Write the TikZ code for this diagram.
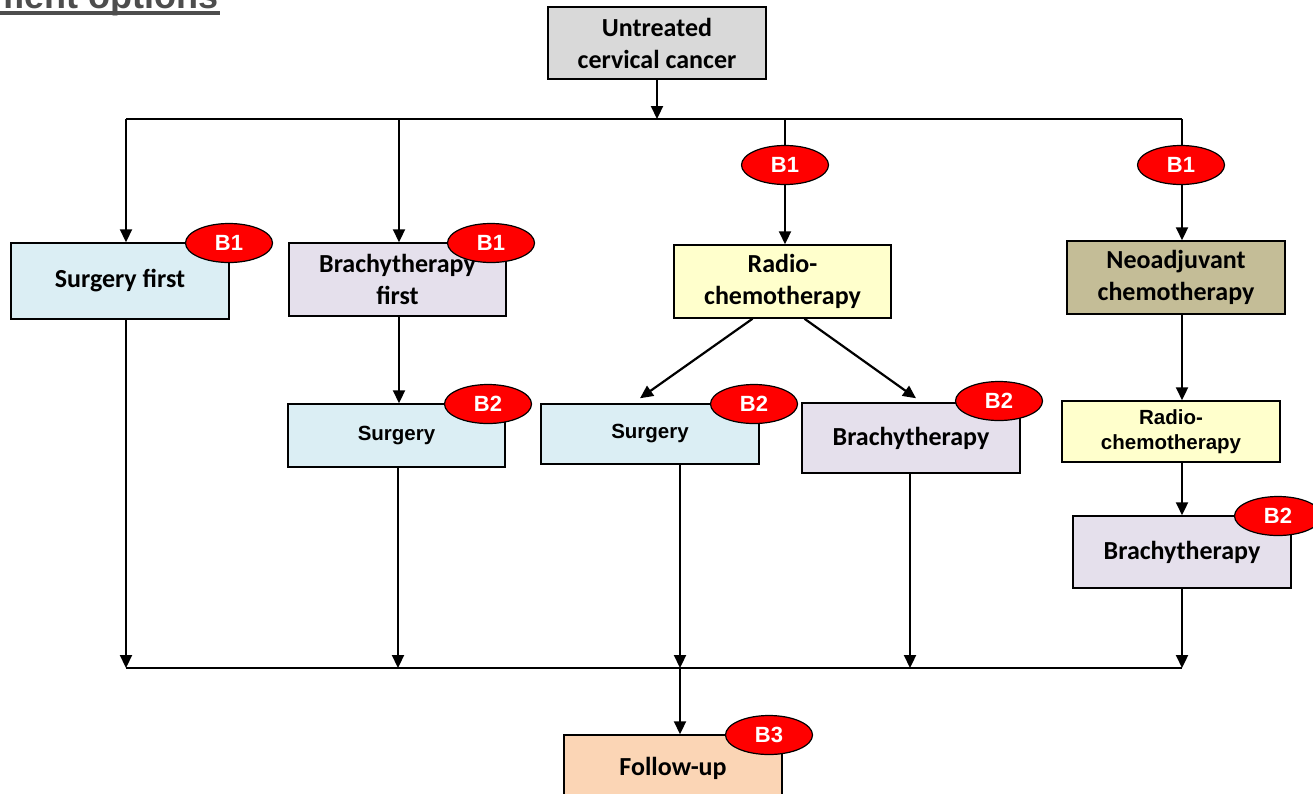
\documentclass[tikz,border=0pt]{standalone}
\usepackage{fontspec}
\setmainfont{Carlito}
\newfontfamily\arialfont{Liberation Sans}
\usetikzlibrary{arrows.meta,shapes.geometric}
\definecolor{cgray}{HTML}{D9D9D9}
\definecolor{cblue}{HTML}{DBEEF4}
\definecolor{clav}{HTML}{E5E0EC}
\definecolor{cyel}{HTML}{FFFFCC}
\definecolor{colive}{HTML}{C4BD97}
\definecolor{cpeach}{HTML}{FBD5B5}
\definecolor{ctitle}{HTML}{4D4D4D}
\definecolor{cred}{HTML}{FF0000}
\tikzset{
  box/.style={draw=black, line width=1.5pt, rectangle, inner sep=0pt, align=center,
    font=\fontsize{26}{32}\selectfont\bfseries},
  abox/.style={box, font=\arialfont\fontsize{20.5}{25}\selectfont\bfseries},
  badge/.style={ellipse, draw=black, line width=1.2pt, fill=cred, text=white, inner sep=0pt,
    minimum width=87pt, minimum height=39pt, font=\arialfont\fontsize{22}{24}\selectfont\bfseries},
  arr/.style={line width=2.2pt, -{Triangle[length=13pt,width=12pt]}},
  ln/.style={line width=1.6pt}
}
\begin{document}
\begin{tikzpicture}[x=1pt,y=-1pt]
\useasboundingbox (0,0) rectangle (1313,793);
\clip (0,0) rectangle (1313,793);
% title (cut off at the top edge, as in the reference)
\node[anchor=base east, inner sep=0pt, text=ctitle, font=\arialfont\fontsize{36}{40}\selectfont\bfseries] (title) at (219,8.5) {Treatment options};
\fill[ctitle] (0,11) rectangle (220,15);
% boxes
\node[box, fill=cgray, minimum width=218pt, minimum height=72pt] (uc) at (657,43) {Untreated\\cervical cancer};
\node[box, fill=cblue, minimum width=218pt, minimum height=76pt] (sf) at (120,281) {Surgery first};
\node[box, fill=clav, minimum width=217pt, minimum height=73pt] (bf) at (397.5,279.5) {Brachytherapy\\first};
\node[box, fill=cyel, minimum width=217pt, minimum height=73pt] (rc) at (782.5,281.5) {Radio-\\chemotherapy};
\node[box, fill=colive, minimum width=218pt, minimum height=73pt] (nc) at (1176,277.5) {Neoadjuvant\\chemotherapy};
\node[abox, fill=cblue, minimum width=217pt, minimum height=63pt] (s2) at (396.5,435.5) {Surgery};
\node[abox, fill=cblue, minimum width=218pt, minimum height=60pt] (s3) at (650,434) {Surgery};
\node[box, fill=clav, minimum width=218pt, minimum height=70pt] (b3) at (911,438) {Brachytherapy};
\node[abox, fill=cyel, minimum width=218pt, minimum height=61pt] (r4) at (1171,431.5) {Radio-\\chemotherapy};
\node[box, fill=clav, minimum width=218pt, minimum height=72pt] (b4) at (1182,552) {Brachytherapy};
\node[box, fill=cpeach, minimum width=218pt, minimum height=66pt] (fu) at (673,768) {Follow-up};
% junction coordinates
\coordinate (t1) at (126,119);
\coordinate (t2) at (399,119);
\coordinate (t0) at (657,119);
\coordinate (t3) at (785,119);
\coordinate (t4) at (1182,119);
\coordinate (u1) at (126,668);
\coordinate (u2) at (398,668);
\coordinate (u3) at (680,668);
\coordinate (u4) at (910,668);
\coordinate (u5) at (1182,668);
% connectors
\draw[ln] (t1) -- (t4);
\draw[ln] (u1) -- (u5);
\draw[arr] (uc.south) -- (t0);
\draw[arr] (t1) -- (t1 |- sf.north);
\draw[arr] (t2) -- (t2 |- bf.north);
\draw[arr] (t3) -- (t3 |- rc.north);
\draw[arr] (t4) -- (t4 |- nc.north);
\draw[arr] (t1 |- sf.south) -- (u1);
\draw[arr] (t2 |- bf.south) -- (t2 |- s2.north);
\draw[arr] (u2 |- s2.south) -- (u2);
\draw[arr] ([xshift=-30pt]rc.south) -- ([xshift=-10pt,yshift=5pt]s3.north);
\draw[arr] ([xshift=22pt]rc.south) -- ([xshift=5pt,yshift=4pt]b3.north);
\draw[arr] (u3 |- s3.south) -- (u3);
\draw[arr] (u4 |- b3.south) -- (u4);
\draw[arr] (t4 |- nc.south) -- (t4 |- r4.north);
\draw[arr] (t4 |- r4.south) -- (t4 |- b4.north);
\draw[arr] (u5 |- b4.south) -- (u5);
\draw[arr] (u3) -- (u3 |- fu.north);
% badges
\node[badge] (e1) at (229,243) {B1};
\node[badge] (e2) at (491,243) {B1};
\node[badge] (e3) at (785,165) {B1};
\node[badge] (e4) at (1181,165) {B1};
\node[badge] (e5) at (488,404) {B2};
\node[badge] (e6) at (754,404) {B2};
\node[badge] (e7) at (999,401) {B2};
\node[badge] (e8) at (1278,516) {B2};
\node[badge] (e9) at (769,735) {B3};
\end{tikzpicture}
\end{document}
